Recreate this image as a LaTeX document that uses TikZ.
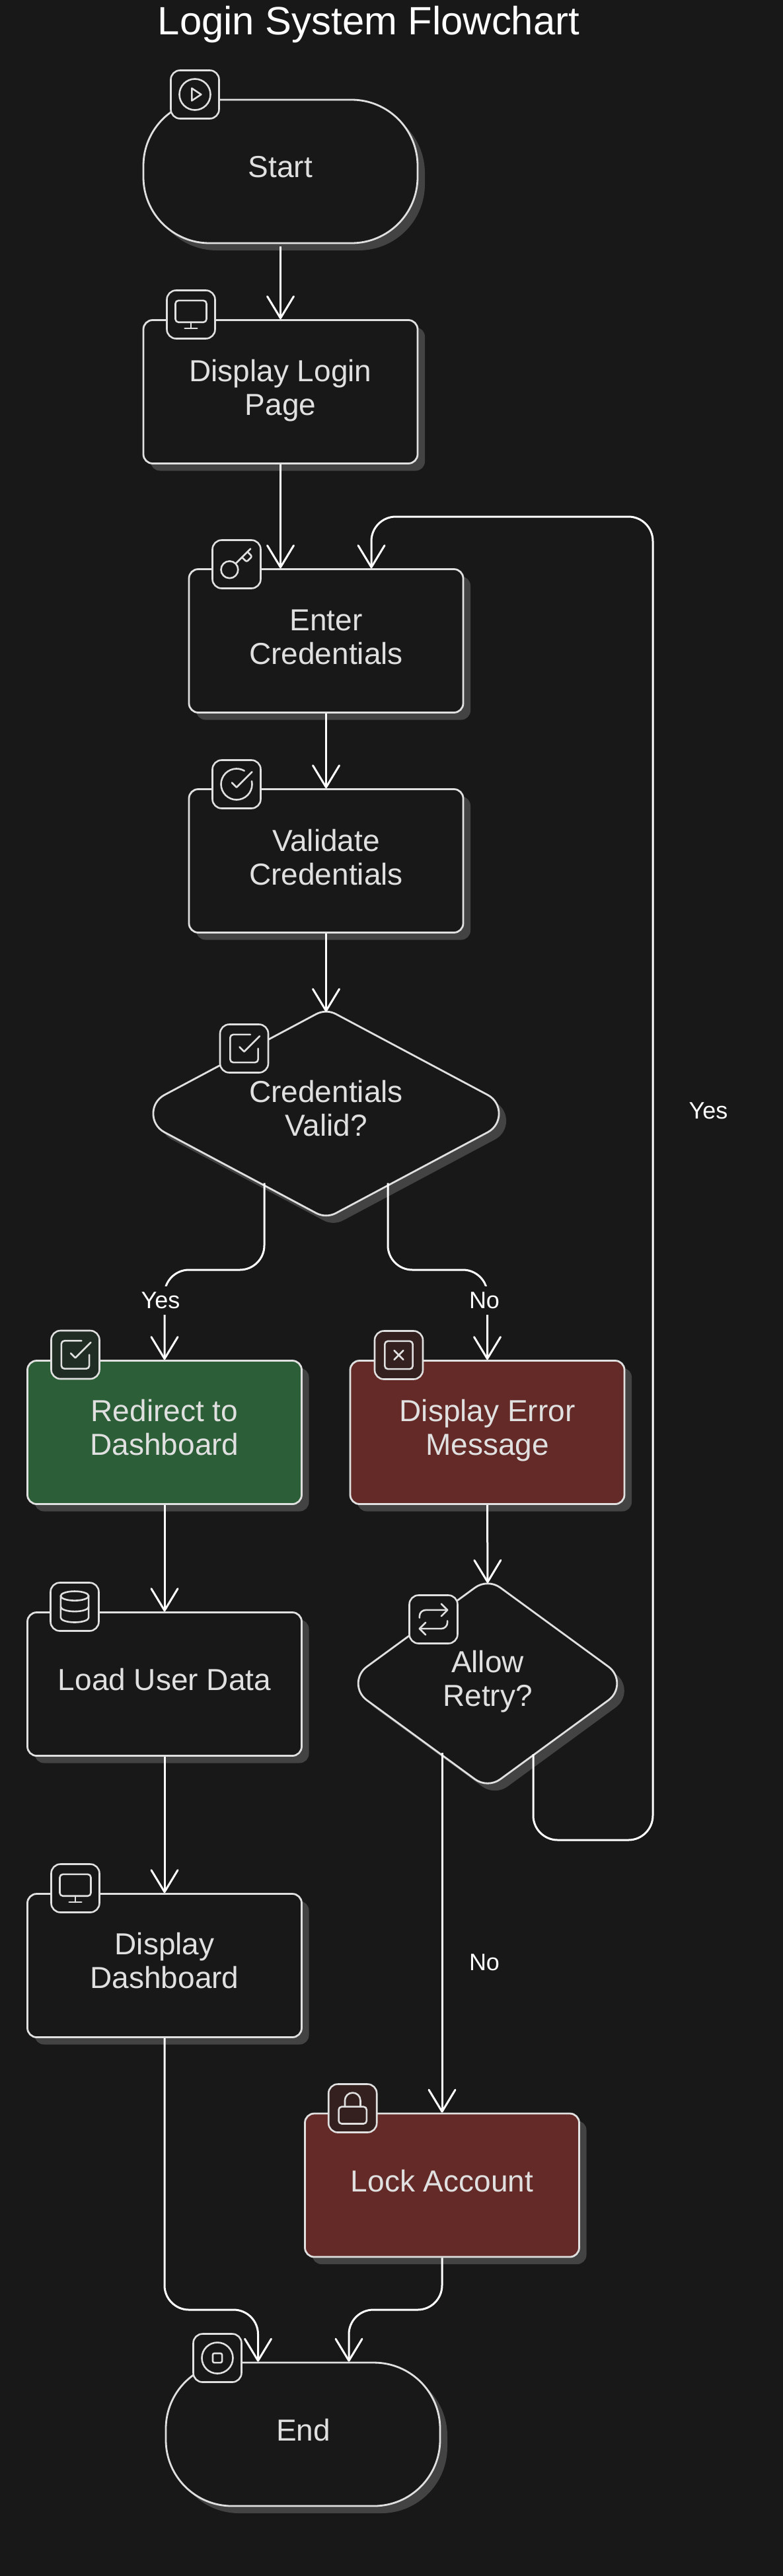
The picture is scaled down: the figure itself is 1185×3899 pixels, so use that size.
\documentclass[tikz,border=0pt]{standalone}
\usepackage{fontspec}
\setmainfont{Liberation Sans}
\usetikzlibrary{arrows.meta,calc,shadows,shapes.geometric}
\definecolor{bgc}{HTML}{181818}
\definecolor{shc}{HTML}{434343}
\definecolor{linec}{HTML}{E0E0E0}
\definecolor{greenc}{HTML}{2C5E37}
\definecolor{redc}{HTML}{632A27}
\definecolor{greenic}{HTML}{1F2D24}
\definecolor{redic}{HTML}{33201F}
\tikzset{
  shapebox/.style={draw=linec,line width=2.8pt,fill=bgc,minimum width=415pt,minimum height=217pt,inner sep=0pt,
    rounded corners=14pt,drop shadow={shadow xshift=11pt,shadow yshift=-11pt,fill=shc,opacity=1}},
  pill/.style={shapebox,rounded corners=100pt},
  okbox/.style={shapebox,fill=greenc},
  badbox/.style={shapebox,fill=redc},
  dianode/.style={diamond,inner sep=0pt,outer sep=0pt},
  dialine/.style={draw=linec,line width=2.8pt,fill=bgc,line join=round},
  diashadow/.style={fill=shc,transform canvas={xshift=11pt,yshift=-11pt}},
  conn/.style={draw=white,line width=3pt,-{Straight Barb[length=33pt,width=40pt,line width=3pt,round]}},
  bendconn/.style={conn,rounded corners=37pt},
  txt/.style={text=linec,align=center,inner sep=0pt,font=\fontsize{46}{51}\selectfont},
  titletxt/.style={text=white,inner sep=0pt,font=\fontsize{59.8}{66}\selectfont},
  elabel/.style={text=white,inner sep=0pt,font=\fontsize{36}{40}\selectfont},
  ecover/.style={elabel,fill=bgc,minimum height=43pt},
  iconbox/.style={draw=linec,line width=2.6pt,fill=bgc,minimum size=73pt,inner sep=0pt,rounded corners=14pt},
  iconline/.style={draw=linec,line width=2.6pt,line cap=round,line join=round},
}
% #1 name, #2 half width, #3 half height, #4 cut at side corners, #5 handle at side corners, #6 cut at top/bottom, #7 handle at top/bottom
\newcommand{\rdia}[7]{%
  \coordinate (#1T) at ($(#1.center)+(0,-#3)$);
  \coordinate (#1B) at ($(#1.center)+(0,#3)$);
  \coordinate (#1L) at ($(#1.center)+(-#2,0)$);
  \coordinate (#1R) at ($(#1.center)+(#2,0)$);
  \def\diapath{($(#1T)!#6pt!(#1R)$) -- ($(#1R)!#4pt!(#1T)$)
    .. controls ($(#1R)!#5pt!(#1T)$) and ($(#1R)!#5pt!(#1B)$) .. ($(#1R)!#4pt!(#1B)$)
    -- ($(#1B)!#6pt!(#1R)$)
    .. controls ($(#1B)!#7pt!(#1R)$) and ($(#1B)!#7pt!(#1L)$) .. ($(#1B)!#6pt!(#1L)$)
    -- ($(#1L)!#4pt!(#1B)$)
    .. controls ($(#1L)!#5pt!(#1B)$) and ($(#1L)!#5pt!(#1T)$) .. ($(#1L)!#4pt!(#1T)$)
    -- ($(#1T)!#6pt!(#1L)$)
    .. controls ($(#1T)!#7pt!(#1L)$) and ($(#1T)!#7pt!(#1R)$) .. ($(#1T)!#6pt!(#1R)$) -- cycle}
  \path[diashadow] \diapath;
  \path[dialine] \diapath;
}
\newcommand{\iconat}[2]{\begin{scope}[shift={(#1.center)},x=2.35pt,y=-2.35pt,shift={(-12,-12)}]#2\end{scope}}
\begin{document}
\begin{tikzpicture}[x=1pt,y=-1pt]
\path[use as bounding box,fill=bgc] (0,0) rectangle (1185,3899);

\node[titletxt] (title) at (558,37) {Login System Flowchart};

% shapes
\node[pill] (start) at (424.5,259.5) {};
\node[shapebox] (login) at (424.5,593) {};
\node[shapebox] (enter) at (493.5,970) {};
\node[shapebox] (validate) at (493.5,1303) {};
\node[dianode,minimum width=595pt,minimum height=317pt] (d1) at (493.5,1685.5) {};
\rdia{d1}{297.6}{158.6}{60}{34.4}{17}{6.4}
\node[okbox] (redirect) at (249,2168) {};
\node[badbox] (error) at (737.5,2168) {};
\node[shapebox] (load) at (249,2549) {};
\node[shapebox] (dash) at (249,2975) {};
\node[dianode,minimum width=435pt,minimum height=318pt] (d2) at (738,2548) {};
\rdia{d2}{217.5}{159}{43}{21.5}{23.7}{9.7}
\node[badbox] (lock) at (669,3307.5) {};
\node[pill] (endn) at (458.5,3684.5) {};

% free ends and bends
\coordinate (d1top) at ($(d1.center)+(0,-154)$);
\coordinate (d2top) at ($(d2.center)+(0,-152)$);
\coordinate (d1yes) at ($(d1.center)+(-93.5,105)$);
\coordinate (d1no) at ($(d1.center)+(93.5,105)$);
\coordinate (d2no) at ($(d2.center)+(-69,105)$);
\coordinate (d2yes) at ($(d2.center)+(69,107)$);
\coordinate (branchy) at (0,1922);
\coordinate (loopbot) at (0,2785);
\coordinate (loopx) at (988,0);
\coordinate (looptop) at (0,782);
\coordinate (entry2) at ($(enter.north)+(68.5,0)$);
\coordinate (endy) at (0,3496);
\coordinate (endin1) at ($(endn.north)+(-68,0)$);
\coordinate (endin2) at ($(endn.north)+(69.5,0)$);

% connectors
\draw[conn] ($(start.south)+(0,4)$) -- (login.north);
\draw[conn] (login.south) -- (login.south |- enter.north);
\draw[conn] (enter.south) -- (validate.north);
\draw[conn] (validate.south) -- (d1top);
\draw[bendconn] (d1yes) -- (d1yes |- branchy) -- (redirect.north |- branchy) -- (redirect.north);
\draw[bendconn] (d1no) -- (d1no |- branchy) -- (error.north |- branchy) -- (error.north);
\draw[conn] (redirect.south) -- (load.north);
\draw[conn] (load.south) -- (dash.north);
\draw[conn] (error.south) -- (d2top);
\draw[conn] (d2no) -- (lock.north);
\draw[bendconn] (d2yes) -- (d2yes |- loopbot) -- (loopx |- loopbot) -- (loopx |- looptop) -- (entry2 |- looptop) -- (entry2);
\draw[bendconn] (dash.south) -- (dash.south |- endy) -- (endin1 |- endy) -- (endin1);
\draw[bendconn] (lock.south) -- (lock.south |- endy) -- (endin2 |- endy) -- (endin2);

% edge labels
\node[ecover] (lyes) at (243,1968) {Yes};
\node[ecover] (lno) at (733,1968) {No};
\node[elabel] (lyes2) at (1072,1681) {Yes};
\node[elabel] (lno2) at (733,2970) {No};

% texts
\node[txt] (tstart) at (424.5,253) {Start};
\node[txt] (tlogin) at (424.5,591) {Display Login\\Page};
\node[txt] (tenter) at (493.5,964.5) {Enter\\Credentials};
\node[txt] (tvalidate) at (493.5,1297.5) {Validate\\Credentials};
\node[txt] (td1) at (493.5,1678) {Credentials\\Valid?};
\node[txt] (tredirect) at (249,2161) {Redirect to\\Dashboard};
\node[txt] (terror) at (737.5,2165) {Display Error\\Message};
\node[txt] (tload) at (249,2542) {Load User Data};
\node[txt] (tdash) at (249,2968) {Display\\Dashboard};
\node[txt] (td2) at (738,2545) {Allow\\Retry?};
\node[txt] (tlock) at (669,3301) {Lock Account};
\node[txt] (tend) at (459,3678) {End};

% icons
\node[iconbox] (i1) at (295,143) {};
\iconat{i1}{\draw[iconline] (12,12) circle [radius=10];
  \draw[iconline] (10,8) -- (16,12) -- (10,16) -- cycle;}
\node[iconbox] (i2) at (289,476) {};
\iconat{i2}{\draw[iconline,rounded corners=4.7pt] (2,3) rectangle (22,17);
  \draw[iconline] (8,21) -- (16,21); \draw[iconline] (12,17) -- (12,21);}
\node[iconbox] (i3) at (358,854) {};
\iconat{i3}{\draw[iconline,rounded corners=2.5pt] (15.5,7.5) -- (18.5,10.5) -- (22,7) -- (19,4);
  \draw[iconline] (21,2) -- (11.4,11.6); \draw[iconline] (7.5,15.5) circle [radius=5.5];}
\node[iconbox] (i4) at (358,1187) {};
\iconat{i4}{\draw[iconline] (21.8,10) arc [start angle=-11.5,end angle=300,radius=10];
  \draw[iconline] (9,11) -- (12,14) -- (22,4);}
\node[iconbox] (i5) at (369.5,1587) {};
\iconat{i5}{\draw[iconline] (9,11) -- (12,14) -- (22,4);
  \draw[iconline,rounded corners=4.7pt] (21,12) -- (21,21) -- (3,21) -- (3,3) -- (16,3);}
\node[iconbox,fill=greenic] (i6) at (114,2050.5) {};
\iconat{i6}{\draw[iconline] (9,11) -- (12,14) -- (22,4);
  \draw[iconline,rounded corners=4.7pt] (21,12) -- (21,21) -- (3,21) -- (3,3) -- (16,3);}
\node[iconbox,fill=redic] (i7) at (603.5,2051) {};
\iconat{i7}{\draw[iconline,rounded corners=4.7pt] (3,3) rectangle (21,21);
  \draw[iconline] (15,9) -- (9,15); \draw[iconline] (9,9) -- (15,15);}
\node[iconbox] (i8) at (113,2432) {};
\iconat{i8}{\draw[iconline] (12,5) ellipse [x radius=9,y radius=3];
  \draw[iconline] (3,5) -- (3,19) arc [start angle=180,end angle=0,x radius=9,y radius=3] -- (21,5);
  \draw[iconline] (3,12) arc [start angle=180,end angle=0,x radius=9,y radius=3];}
\node[iconbox] (i9) at (114,2858) {};
\iconat{i9}{\draw[iconline,rounded corners=4.7pt] (2,3) rectangle (22,17);
  \draw[iconline] (8,21) -- (16,21); \draw[iconline] (12,17) -- (12,21);}
\node[iconbox] (i10) at (656,2451) {};
\iconat{i10}{\draw[iconline] (17,2) -- (21,6) -- (17,10);
  \draw[iconline] (3,11) -- (3,10) arc [start angle=180,end angle=270,radius=4] -- (21,6);
  \draw[iconline] (7,22) -- (3,18) -- (7,14);
  \draw[iconline] (21,13) -- (21,14) arc [start angle=0,end angle=90,radius=4] -- (3,18);}
\node[iconbox,fill=redic] (i11) at (533.7,3191) {};
\iconat{i11}{\draw[iconline,rounded corners=4.7pt] (3,11) rectangle (21,22);
  \draw[iconline] (7,11) -- (7,7) arc [start angle=180,end angle=360,radius=5] -- (17,11);}
\node[iconbox] (i12) at (329,3569) {};
\iconat{i12}{\draw[iconline] (12,12) circle [radius=10];
  \draw[iconline,rounded corners=2.35pt] (9,9) rectangle (15,15);}
\end{tikzpicture}
\end{document}
